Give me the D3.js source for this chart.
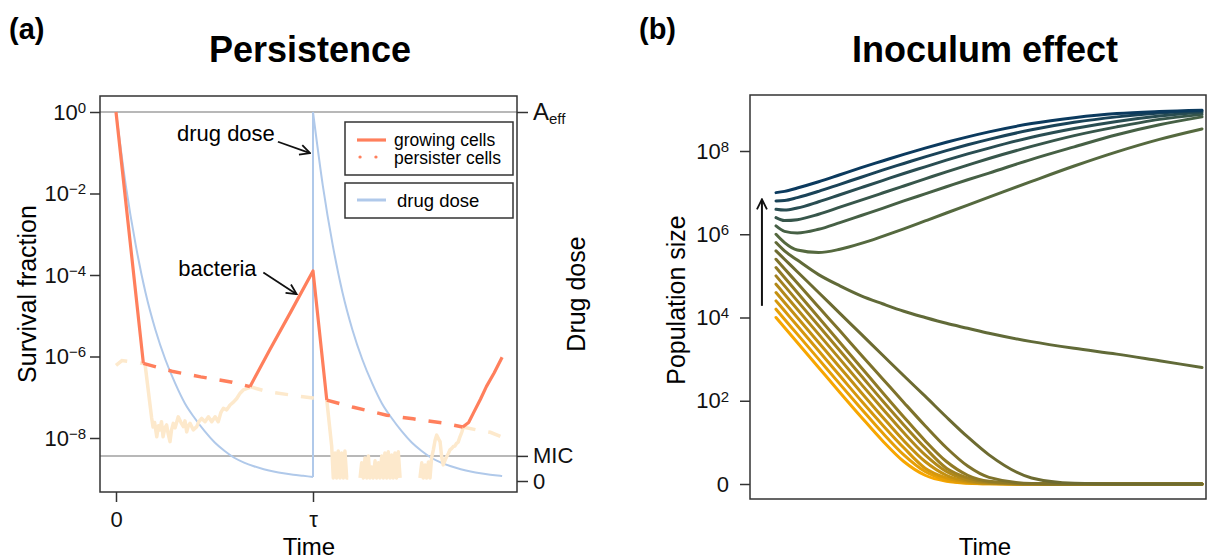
<!DOCTYPE html>
<html>
<head>
<meta charset="utf-8">
<script src="https://cdn.jsdelivr.net/npm/d3@7"></script>
<style>
body { margin: 0; background: #fff; }
svg { font-family: "Liberation Sans", Arial, sans-serif; }
</style>
</head>
<body>
<svg id="chart" width="1211" height="560"></svg>
<script>
// ---- panel (a): persistence, time in units of tau, survival as log10 exponent ----
const survivalTicks = [0, -2, -4, -6, -8];
const timeTicksA = [0, 1];
const timeTickLabelsA = ['0', 'τ'];
const doseTicks = [1, 0.068, 0];
const doseTickLabels = ['Aeff', 'MIC', '0'];

const growingCells = [
    [0, 0], [0.139, -6.17], null,
    [0.68, -6.74], [0.78, -5.84], [0.89, -4.88], [1.0, -3.9], [1.07, -7.07], null,
    [1.76, -7.73], [1.79, -7.62], [1.814, -7.39], [1.85, -7.05], [1.88, -6.74], [1.92, -6.4], [1.96, -6.02]
];

const persisterCells = [
    [0, -6.22], [0.03, -6.1], [0.08, -6.13], [0.139, -6.17], [0.29, -6.37], [0.43, -6.5],
    [0.59, -6.63], [0.68, -6.74], [0.765, -6.86], [0.88, -6.94], [1.0, -7.02], [1.07, -7.07],
    [1.2, -7.24], [1.374, -7.44], [1.508, -7.53], [1.66, -7.63], [1.76, -7.73], [1.83, -7.8],
    [1.9, -7.86], [1.96, -7.98]
];
const persisterDominant = [[0.139, 0.68], [1.07, 1.76]];

const stochasticCells = [
    [0.147, -6.17], [0.181, -7.51], [0.188, -7.73], [0.196, -7.62], [0.207, -7.97], [0.215, -7.7],
    [0.223, -7.8], [0.231, -7.6], [0.239, -7.97], [0.248, -7.75], [0.257, -7.68], [0.265, -7.9],
    [0.274, -8.09], [0.282, -7.8], [0.291, -7.64], [0.3, -7.75], [0.316, -7.48], [0.33, -7.62],
    [0.342, -7.72], [0.35, -7.58], [0.359, -7.85], [0.367, -7.7], [0.376, -7.64], [0.392, -7.8],
    [0.41, -7.72], [0.42, -7.6], [0.435, -7.52], [0.452, -7.6], [0.469, -7.48], [0.486, -7.6],
    [0.503, -7.48], [0.519, -7.6], [0.532, -7.38], [0.545, -7.27], [0.562, -7.31], [0.579, -7.19],
    [0.596, -7.12], [0.613, -7.03], [0.63, -6.9], [0.646, -6.82], [0.68, -6.76], null,
    [1.07, -7.07], [1.095, -8.21], [1.103, -8.98], [1.112, -8.37], [1.12, -8.98], [1.128, -8.32],
    [1.137, -8.98], [1.145, -8.37], [1.154, -8.98], [1.162, -8.32], [1.171, -8.98], [1.179, -8.98], null,
    [1.239, -8.98], [1.247, -8.61], [1.256, -8.98], [1.264, -8.49], [1.273, -8.98], [1.281, -8.44],
    [1.289, -8.98], [1.298, -8.71], [1.306, -8.98], [1.315, -8.56], [1.323, -8.98], [1.332, -8.61],
    [1.34, -8.98], [1.349, -8.44], [1.357, -8.98], [1.365, -8.37], [1.374, -8.98], [1.382, -8.34],
    [1.391, -8.98], [1.399, -8.42], [1.407, -8.98], [1.416, -8.37], [1.424, -8.98], [1.433, -8.34],
    [1.442, -8.98], null,
    [1.543, -8.98], [1.552, -8.61], [1.56, -8.98], [1.569, -8.66], [1.577, -8.98], [1.586, -8.59],
    [1.594, -8.98], [1.602, -8.49], [1.611, -8.29], [1.62, -8.05], [1.628, -7.93], [1.637, -8.02],
    [1.645, -8.09], [1.653, -8.45], [1.661, -8.66], [1.67, -8.55], [1.678, -8.46], [1.687, -8.38],
    [1.695, -8.29], [1.703, -8.26], [1.712, -8.21], [1.72, -8.2], [1.729, -8.13], [1.737, -8.1],
    [1.746, -7.97], [1.755, -7.86], [1.763, -7.74]
];

const doseFirst = [
    [0, 1], [0.05, 0.8], [0.1, 0.64], [0.15, 0.51], [0.2, 0.41], [0.25, 0.33], [0.3, 0.265],
    [0.35, 0.21], [0.4, 0.17], [0.45, 0.135], [0.5, 0.105], [0.55, 0.082], [0.6, 0.063],
    [0.65, 0.05], [0.7, 0.04], [0.75, 0.032], [0.8, 0.026], [0.85, 0.021], [0.9, 0.017],
    [0.95, 0.014], [1.0, 0.011]
];
const doseSecond = [
    [1.0, 1], [1.05, 0.8], [1.1, 0.64], [1.15, 0.51], [1.2, 0.41], [1.25, 0.33], [1.3, 0.265],
    [1.35, 0.21], [1.4, 0.17], [1.45, 0.135], [1.5, 0.105], [1.55, 0.082], [1.6, 0.063],
    [1.65, 0.05], [1.7, 0.04], [1.75, 0.032], [1.8, 0.026], [1.85, 0.021], [1.9, 0.017],
    [1.95, 0.014], [1.96, 0.0135]
];

const cellLegend = ['growing cells', 'persister cells'];
const doseLegend = ['drug dose'];

// ---- panel (b): inoculum effect, population as log10(1 + N) ----
const populationTicks = [0, 2, 4, 6, 8];
const timeB = [0, 0.02, 0.05, 0.1, 0.15, 0.2, 0.25, 0.3, 0.35, 0.4, 0.45, 0.5, 0.6, 0.7, 0.8, 0.9, 1.0];
const inocula = [
    [7.0, 7.03, 7.11, 7.26, 7.43, 7.6, 7.76, 7.92, 8.07, 8.21, 8.34, 8.46, 8.66, 8.8, 8.9, 8.95, 8.98],
    [6.8, 6.81, 6.88, 7.03, 7.2, 7.37, 7.54, 7.7, 7.86, 8.01, 8.15, 8.28, 8.51, 8.69, 8.82, 8.91, 8.96],
    [6.6, 6.58, 6.63, 6.78, 6.95, 7.12, 7.29, 7.46, 7.62, 7.78, 7.93, 8.07, 8.33, 8.54, 8.71, 8.84, 8.93],
    [6.4, 6.33, 6.35, 6.48, 6.65, 6.82, 6.99, 7.16, 7.33, 7.5, 7.66, 7.82, 8.11, 8.37, 8.58, 8.76, 8.88],
    [6.2, 6.07, 6.03, 6.12, 6.28, 6.45, 6.62, 6.8, 6.97, 7.14, 7.31, 7.47, 7.8, 8.1, 8.39, 8.63, 8.82],
    [6.0, 5.8, 5.62, 5.56, 5.64, 5.78, 5.95, 6.13, 6.32, 6.51, 6.7, 6.89, 7.27, 7.64, 7.98, 8.28, 8.53],
    [5.8, 5.6, 5.38, 5.03, 4.76, 4.52, 4.33, 4.15, 4.0, 3.86, 3.74, 3.62, 3.42, 3.26, 3.12, 2.96, 2.8],
    [5.6, 5.4, 5.1, 4.6, 4.1, 3.6, 3.1, 2.6, 2.11, 1.61, 1.13, 0.7, 0.146, 0.017, 0, 0, 0],
    [5.4, 5.17, 4.83, 4.25, 3.68, 3.1, 2.53, 1.96, 1.4, 0.87, 0.43, 0.16, 0.013, 0, 0, 0, 0],
    [5.2, 4.96, 4.6, 4.0, 3.4, 2.8, 2.2, 1.61, 1.04, 0.54, 0.21, 0.064, 0.004, 0, 0, 0, 0],
    [5.0, 4.76, 4.4, 3.8, 3.2, 2.6, 2.0, 1.42, 0.87, 0.38, 0.146, 0.041, 0, 0, 0, 0, 0],
    [4.8, 4.56, 4.2, 3.6, 3.0, 2.4, 1.81, 1.23, 0.7, 0.3, 0.097, 0.026, 0, 0, 0, 0, 0],
    [4.6, 4.36, 4.0, 3.4, 2.8, 2.2, 1.61, 1.04, 0.54, 0.21, 0.064, 0.017, 0, 0, 0, 0, 0],
    [4.4, 4.16, 3.8, 3.2, 2.6, 2.0, 1.42, 0.87, 0.38, 0.146, 0.041, 0.01, 0, 0, 0, 0, 0],
    [4.2, 3.96, 3.6, 3.0, 2.4, 1.81, 1.23, 0.7, 0.3, 0.097, 0.026, 0.007, 0, 0, 0, 0, 0],
    [4.0, 3.76, 3.4, 2.8, 2.2, 1.61, 1.04, 0.54, 0.21, 0.064, 0.017, 0.004, 0, 0, 0, 0, 0]
];

const coral = '#ff7f5c';
const peach = '#fde9cc';
const sky = '#b0c9ea';
const frame = '#333';

const svg = d3.select('#chart');

const defs = svg.append('defs');
defs.append('marker')
    .attr('id', 'arrow')
    .attr('viewBox', '0 0 12 12')
    .attr('refX', 11).attr('refY', 6)
    .attr('markerWidth', 12).attr('markerHeight', 12)
    .attr('markerUnits', 'userSpaceOnUse')
    .attr('orient', 'auto')
    .append('path')
        .attr('d', 'M1,1 L11,6 L1,11')
        .attr('fill', 'none')
        .attr('stroke', '#111')
        .attr('stroke-width', 1.8);

function tidyAxis(g) {
    g.select('.domain').remove();
    g.attr('font-family', null).attr('font-size', 22);
    g.selectAll('.tick line').attr('stroke', frame).attr('stroke-width', 1.5);
    g.selectAll('.tick text').attr('fill', '#111');
}

function powerLabel(sel, exp) {
    sel.text(null);
    sel.append('tspan').text('10');
    sel.append('tspan').attr('dy', '-0.45em').attr('font-size', 15)
        .text(exp < 0 ? '\u2212' + (-exp) : exp);
}

// ================= panel (a) =================
const boxA = {left: 100, right: 517, top: 96, bottom: 492};
const xA = d3.scaleLinear().domain([0, 1]).range([116, 313]);
const yA = d3.scaleLinear().domain([-8, 0]).range([438, 112]);
const yDose = d3.scaleLinear().domain([0, 1]).range([481, 112]);

const panelA = svg.append('g');

panelA.selectAll('line.ref')
    .data([doseTicks[0], doseTicks[1]])
    .enter().append('line')
        .attr('class', 'ref')
        .attr('x1', boxA.left).attr('x2', boxA.right)
        .attr('y1', d => yDose(d)).attr('y2', d => yDose(d))
        .attr('stroke', '#a0a0a0').attr('stroke-width', 1.5);

const doseLine = d3.line()
    .x(d => xA(d[0]))
    .y(d => yDose(d[1]))
    .curve(d3.curveMonotoneX);

[doseFirst, doseSecond].forEach(arr => {
    panelA.append('path')
        .attr('d', doseLine(arr))
        .attr('fill', 'none').attr('stroke', sky).attr('stroke-width', 2);
});
panelA.append('line')
    .attr('x1', xA(doseFirst[doseFirst.length - 1][0]))
    .attr('x2', xA(doseSecond[0][0]))
    .attr('y1', yDose(doseFirst[doseFirst.length - 1][1]))
    .attr('y2', yDose(doseSecond[0][1]))
    .attr('stroke', sky).attr('stroke-width', 2);

const cellLine = d3.line()
    .defined(d => d !== null)
    .x(d => xA(d[0]))
    .y(d => yA(d[1]));

panelA.append('path')
    .attr('d', cellLine(stochasticCells))
    .attr('fill', 'none').attr('stroke', peach).attr('stroke-width', 3.5)
    .attr('stroke-linejoin', 'round');

// persister curve: peach where growing cells dominate, coral otherwise
const inRange = (t, r) => t >= r[0] && t <= r[1];
const peachRuns = [[0, persisterDominant[0][0]], [persisterDominant[0][1], persisterDominant[1][0]], [persisterDominant[1][1], 2]];
peachRuns.forEach(r => {
    panelA.append('path')
        .attr('d', cellLine(persisterCells.filter(d => inRange(d[0], r))))
        .attr('fill', 'none').attr('stroke', peach).attr('stroke-width', 3.5)
        .attr('stroke-dasharray', '13,13');
});
persisterDominant.forEach(r => {
    panelA.append('path')
        .attr('d', cellLine(persisterCells.filter(d => inRange(d[0], r))))
        .attr('fill', 'none').attr('stroke', coral).attr('stroke-width', 3.5)
        .attr('stroke-dasharray', '13,13');
});

panelA.append('path')
    .attr('d', cellLine(growingCells))
    .attr('fill', 'none').attr('stroke', coral).attr('stroke-width', 3.2)
    .attr('stroke-linejoin', 'round');

panelA.append('rect')
    .attr('x', boxA.left).attr('y', boxA.top)
    .attr('width', boxA.right - boxA.left).attr('height', boxA.bottom - boxA.top)
    .attr('fill', 'none').attr('stroke', frame).attr('stroke-width', 1.5);

panelA.append('g')
    .attr('transform', `translate(${boxA.left},0)`)
    .call(d3.axisLeft(yA).tickValues(survivalTicks).tickSize(10).tickPadding(4))
    .call(tidyAxis)
    .selectAll('.tick text').each(function(d) { powerLabel(d3.select(this), d); });

panelA.append('g')
    .attr('transform', `translate(${boxA.right},0)`)
    .call(d3.axisRight(yDose).tickValues(doseTicks).tickSize(11).tickPadding(5))
    .call(tidyAxis)
    .selectAll('.tick text').each(function(d, i) {
        const t = d3.select(this);
        const label = doseTickLabels[i];
        if (label === 'Aeff') {
            t.text(null);
            t.append('tspan').attr('font-size', 24).text('A');
            t.append('tspan').attr('dy', '0.3em').attr('font-size', 15).text('eff');
        } else {
            t.text(label);
        }
    });

panelA.append('g')
    .attr('transform', `translate(0,${boxA.bottom})`)
    .call(d3.axisBottom(xA).tickValues(timeTicksA).tickSize(10).tickPadding(9)
        .tickFormat((d, i) => timeTickLabelsA[i]))
    .call(tidyAxis);

panelA.append('text')
    .attr('x', 309).attr('y', 555)
    .attr('text-anchor', 'middle').attr('font-size', 24)
    .text('Time');
panelA.append('text')
    .attr('transform', `translate(36,${(boxA.top + boxA.bottom) / 2}) rotate(-90)`)
    .attr('text-anchor', 'middle').attr('font-size', 25)
    .text('Survival fraction');
panelA.append('text')
    .attr('transform', `translate(585,${(boxA.top + boxA.bottom) / 2}) rotate(-90)`)
    .attr('text-anchor', 'middle').attr('font-size', 25)
    .text('Drug dose');

// annotations
panelA.append('text')
    .attr('x', xA(0.558)).attr('y', yA(-0.72))
    .attr('text-anchor', 'middle').attr('font-size', 22)
    .text('drug dose');
panelA.append('line')
    .attr('x1', xA(0.822)).attr('y1', yA(-0.73))
    .attr('x2', xA(0.985)).attr('y2', yA(-1.01))
    .attr('stroke', '#111').attr('stroke-width', 1.8)
    .attr('marker-end', 'url(#arrow)');
panelA.append('text')
    .attr('x', xA(0.515)).attr('y', yA(-4.02))
    .attr('text-anchor', 'middle').attr('font-size', 22)
    .text('bacteria');
panelA.append('line')
    .attr('x1', xA(0.748)).attr('y1', yA(-3.94))
    .attr('x2', xA(0.917)).attr('y2', yA(-4.47))
    .attr('stroke', '#111').attr('stroke-width', 1.8)
    .attr('marker-end', 'url(#arrow)');

// legends
const legCells = panelA.append('g').attr('transform', 'translate(345,122)');
legCells.append('rect')
    .attr('width', 168).attr('height', 53)
    .attr('fill', '#fff').attr('stroke', frame).attr('stroke-width', 1.5);
legCells.selectAll('line.key')
    .data(cellLegend)
    .enter().append('line')
        .attr('class', 'key')
        .attr('x1', (d, i) => i ? 15 : 12).attr('x2', (d, i) => i ? 31 : 41)
        .attr('y1', (d, i) => 18 + i * 17).attr('y2', (d, i) => 18 + i * 17)
        .attr('stroke', coral).attr('stroke-width', 3.2)
        .attr('stroke-linecap', (d, i) => i ? 'round' : 'butt')
        .attr('stroke-dasharray', (d, i) => i ? '0.1,15.8' : null);
legCells.selectAll('text')
    .data(cellLegend)
    .enter().append('text')
        .attr('x', 49).attr('y', (d, i) => 23.5 + i * 18)
        .attr('font-size', 17.5)
        .text(d => d);

const legDose = panelA.append('g').attr('transform', 'translate(345,183)');
legDose.append('rect')
    .attr('width', 168).attr('height', 35)
    .attr('fill', '#fff').attr('stroke', frame).attr('stroke-width', 1.5);
legDose.selectAll('line.key')
    .data(doseLegend)
    .enter().append('line')
        .attr('class', 'key')
        .attr('x1', 12).attr('x2', 41).attr('y1', 17).attr('y2', 17)
        .attr('stroke', sky).attr('stroke-width', 3);
legDose.selectAll('text')
    .data(doseLegend)
    .enter().append('text')
        .attr('x', 52).attr('y', 24)
        .attr('font-size', 18.5)
        .text(d => d);

// ================= panel (b) =================
const boxB = {left: 750, right: 1206, top: 95, bottom: 499};
const xB = d3.scaleLinear().domain([0, 1]).range([776, 1202]);
const yB = d3.scaleLinear().domain([0, 8]).range([484, 151]);
const colourB = d3.scaleLinear()
    .domain([0, 5, 7, 15])
    .range(['#0b3a5e', '#55693f', '#6d6b31', '#f7a600'])
    .interpolate(d3.interpolateRgb);

const panelB = svg.append('g');

const popLine = d3.line()
    .x((d, i) => xB(timeB[i]))
    .y(d => yB(d))
    .curve(d3.curveMonotoneX);

const order = d3.range(inocula.length).reverse();
panelB.selectAll('path.inoc')
    .data(order)
    .enter().append('path')
        .attr('class', 'inoc')
        .attr('d', i => popLine(inocula[i]))
        .attr('fill', 'none')
        .attr('stroke', i => colourB(i))
        .attr('stroke-width', 3)
        .attr('stroke-linecap', 'round');

panelB.append('rect')
    .attr('x', boxB.left).attr('y', boxB.top)
    .attr('width', boxB.right - boxB.left).attr('height', boxB.bottom - boxB.top)
    .attr('fill', 'none').attr('stroke', frame).attr('stroke-width', 1.5);

panelB.append('g')
    .attr('transform', `translate(${boxB.left},0)`)
    .call(d3.axisLeft(yB).tickValues(populationTicks).tickSize(10).tickPadding(11))
    .call(tidyAxis)
    .selectAll('.tick text').each(function(d) {
        if (d === 0) d3.select(this).text('0');
        else powerLabel(d3.select(this), d);
    });

panelB.append('line')
    .attr('x1', xB(-0.033)).attr('y1', yB(4.28))
    .attr('x2', xB(-0.033)).attr('y2', yB(6.84))
    .attr('stroke', '#111').attr('stroke-width', 2)
    .attr('marker-end', 'url(#arrow)');

panelB.append('text')
    .attr('x', 985).attr('y', 555)
    .attr('text-anchor', 'middle').attr('font-size', 24)
    .text('Time');
panelB.append('text')
    .attr('transform', `translate(685,300) rotate(-90)`)
    .attr('text-anchor', 'middle').attr('font-size', 25)
    .text('Population size');

// titles
svg.append('text').attr('x', 9).attr('y', 39)
    .attr('font-size', 29).attr('font-weight', 'bold').text('(a)');
svg.append('text').attr('x', 639).attr('y', 39)
    .attr('font-size', 29).attr('font-weight', 'bold').text('(b)');
svg.append('text').attr('x', 310).attr('y', 62)
    .attr('text-anchor', 'middle').attr('font-size', 36).attr('font-weight', 'bold')
    .text('Persistence');
svg.append('text').attr('x', 985).attr('y', 62)
    .attr('text-anchor', 'middle').attr('font-size', 36).attr('font-weight', 'bold')
    .text('Inoculum effect');
</script>
</body>
</html>
